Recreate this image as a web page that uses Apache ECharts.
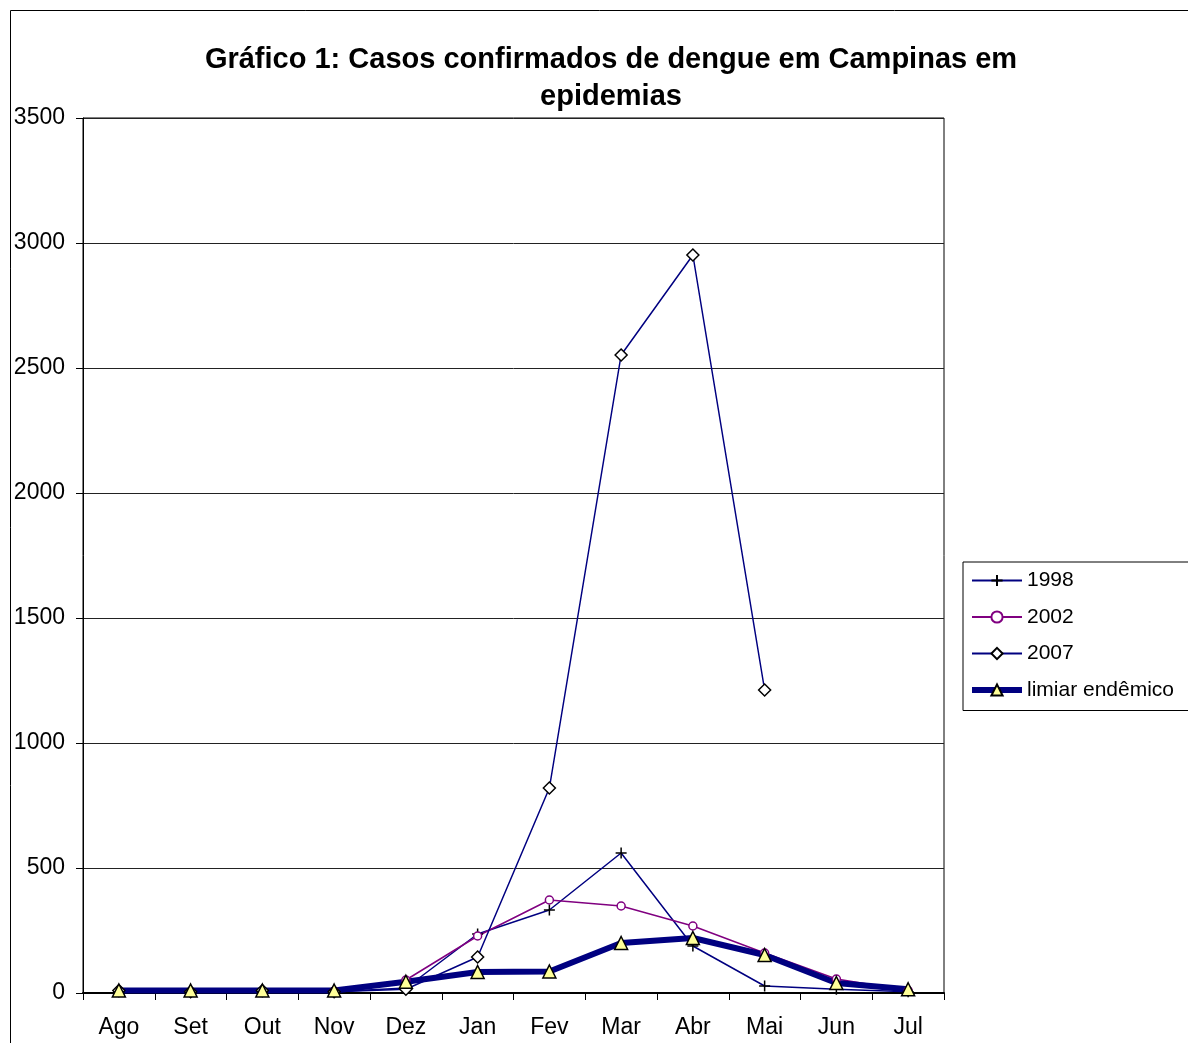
<!DOCTYPE html>
<html>
<head>
<meta charset="utf-8">
<script src="https://cdn.jsdelivr.net/npm/echarts@6/dist/echarts.min.js"></script>
<style>
  html, body { margin: 0; padding: 0; background: #fff; }
  #chart { width: 1188px; height: 1043px; }
</style>
</head>
<body>
<div id="chart"></div>
<script>
  // months (Ago..Jul) and cases per series
  const months = ['Ago', 'Set', 'Out', 'Nov', 'Dez', 'Jan', 'Fev', 'Mar', 'Abr', 'Mai', 'Jun', 'Jul']
  const cases1998 = [5, 5, 5, 5, 20, 236, 332, 560, 188, 28, 15, 5]
  const cases2002 = [10, 5, 5, 8, 52, 228, 372, 348, 268, 160, 56, 10]
  const cases2007 = [10, 5, 10, 5, 15, 144, 820, 2552, 2952, 1212, null, null]
  const limiar = [10, 10, 10, 10, 45, 84, 86, 200, 220, 152, 40, 15]
  const yTicks = [0, 500, 1000, 1500, 2000, 2500, 3000, 3500]

  const font = 'Liberation Sans, Arial, sans-serif'
  const navy = '#000080'
  const plus = 'path://M5,0 L5,10 M0,5 L10,5'

  let chart = echarts.init(document.getElementById('chart'))
  let option = {
    animation: false,
    backgroundColor: '#fff',
    title: {
      text: 'Gráfico 1: Casos confirmados de dengue em Campinas em\nepidemias',
      left: 606,
      top: 36,
      textAlign: 'center',
      textStyle: { fontFamily: font, fontSize: 29, fontWeight: 'bold', color: '#000', lineHeight: 37 }
    },
    graphic: [{
      type: 'rect',
      shape: { x: 10.5, y: 10.5, width: 1200, height: 1100 },
      style: { fill: 'none', stroke: '#000', lineWidth: 1 },
      z: 0
    }],
    legend: {
      orient: 'vertical',
      left: 963,
      top: 562,
      padding: [8, 30, 10, 6],
      itemWidth: 50,
      itemHeight: 14,
      itemGap: 15.5,
      borderColor: '#000',
      borderWidth: 1,
      backgroundColor: '#fff',
      textStyle: { fontFamily: font, fontSize: 21, color: '#000' },
      data: ['1998', '2002', '2007', { name: 'limiar endêmico', lineStyle: { width: 6 } }]
    },
    grid: {
      left: 83, right: 244, top: 118, bottom: 50,
      show: true, borderColor: '#000', borderWidth: 1, backgroundColor: '#fff'
    },
    xAxis: {
      type: 'category',
      data: months,
      boundaryGap: true,
      axisLine: { lineStyle: { color: '#000', width: 2 } },
      axisTick: { show: true, length: 7, lineStyle: { color: '#000' } },
      axisLabel: { fontFamily: font, fontSize: 23, color: '#000', margin: 23 }
    },
    yAxis: {
      type: 'value',
      min: yTicks[0],
      max: yTicks[yTicks.length - 1],
      interval: 500,
      axisLine: { show: true, lineStyle: { color: '#000', width: 1 } },
      axisTick: { show: true, length: 7, lineStyle: { color: '#000' } },
      axisLabel: { fontFamily: font, fontSize: 23, color: '#000', margin: 18, formatter: v => String(v) },
      splitLine: { lineStyle: { color: '#222', width: 1 } }
    },
    series: [
      {
        name: '1998', type: 'line', data: cases1998,
        symbol: plus, symbolSize: 11,
        lineStyle: { color: navy, width: 1.5 },
        itemStyle: { color: 'none', borderColor: '#000', borderWidth: 1.5 }
      },
      {
        name: '2002', type: 'line', data: cases2002,
        symbol: 'circle', symbolSize: 8,
        lineStyle: { color: '#800080', width: 1.5 },
        itemStyle: { color: '#fff', borderColor: '#800080', borderWidth: 1.5 }
      },
      {
        name: '2007', type: 'line', data: cases2007,
        symbol: 'diamond', symbolSize: 12,
        lineStyle: { color: navy, width: 1.5 },
        itemStyle: { color: '#fff', borderColor: '#000', borderWidth: 1.5 }
      },
      {
        name: 'limiar endêmico', type: 'line', data: limiar,
        symbol: 'triangle', symbolSize: 13,
        lineStyle: { color: navy, width: 6 },
        itemStyle: { color: '#ffff99', borderColor: '#000', borderWidth: 1.5 }
      }
    ]
  }
  chart.setOption(option)
</script>
</body>
</html>
